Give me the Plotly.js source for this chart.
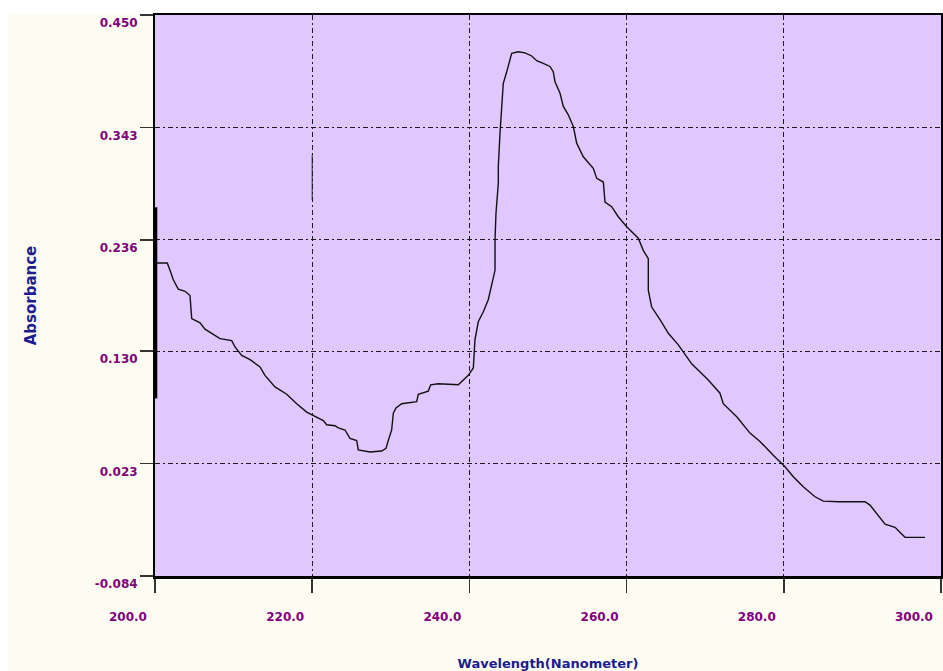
<!DOCTYPE html>
<html>
<head>
<meta charset="utf-8">
<script src="https://cdn.plot.ly/plotly-3.0.1.min.js"></script>
<style>
  html, body { margin: 0; padding: 0; background: #ffffff; width: 943px; height: 671px; overflow: hidden; }
  #panel { position: absolute; left: 8px; top: 14px; width: 935px; height: 657px; background: #fcfcf3; }
  #chart { position: absolute; left: 0; top: 0; width: 943px; height: 671px; }
</style>
</head>
<body>
<div id="panel"></div>
<div id="chart"></div>
<script>
// Wavelength (nm) and absorbance
const wavelength = [200.2, 201.56, 201.91, 202.33, 202.96, 203.82, 204.45, 204.67, 205.73, 206.36,
  208.27, 209.76, 210.18, 211.03, 212.09, 213.36, 213.99, 215.27, 216.76, 218.03,
  219.30, 220.14, 221.41, 221.84, 222.90, 223.32, 224.17, 224.81, 225.66, 225.86,
  227.35, 228.84, 229.39, 229.68, 230.11, 230.32, 230.66, 231.39, 233.29, 233.50,
  234.77, 235.08, 236.04, 238.59, 239.22, 239.86, 240.50, 240.71, 241.13, 241.77,
  242.40, 243.04, 243.26, 243.26, 243.38, 243.68, 243.68, 243.89, 244.11, 244.31,
  244.75, 245.38, 246.22, 247.07, 247.93, 248.56, 249.40, 250.25, 250.67, 250.89,
  251.53, 251.95, 252.58, 253.22, 253.65, 254.49, 255.76, 256.20, 257.04, 257.25,
  258.10, 258.94, 260.01, 261.49, 262.12, 262.76, 262.76, 263.19, 264.25, 265.31,
  266.58, 267.21, 268.28, 270.39, 271.88, 272.30, 274.01, 275.70, 276.97, 278.66,
  280.15, 281.21, 282.48, 283.97, 285.03, 286.94, 290.33, 290.97, 292.24, 292.88,
  294.15, 295.42, 297.96];
const absorbance = [0.214, 0.214, 0.207, 0.198, 0.189, 0.187, 0.183, 0.161, 0.157, 0.151,
  0.142, 0.140, 0.134, 0.126, 0.122, 0.115, 0.107, 0.096, 0.089, 0.080,
  0.072, 0.069, 0.064, 0.060, 0.059, 0.057, 0.055, 0.047, 0.045, 0.036,
  0.034, 0.035, 0.0375, 0.045, 0.055, 0.071, 0.076, 0.080, 0.082, 0.089,
  0.092, 0.098, 0.099, 0.098, 0.1025, 0.107, 0.114, 0.141, 0.158, 0.1675,
  0.179, 0.198, 0.207, 0.236, 0.261, 0.290, 0.306, 0.337, 0.363, 0.385,
  0.396, 0.4135, 0.415, 0.414, 0.411, 0.4065, 0.404, 0.401, 0.396, 0.3865,
  0.3755, 0.363, 0.355, 0.344, 0.328, 0.315, 0.304, 0.2945, 0.291, 0.272,
  0.2675, 0.258, 0.2485, 0.2375, 0.226, 0.218, 0.188, 0.172, 0.160, 0.147,
  0.136, 0.1295, 0.118, 0.1025, 0.090, 0.080, 0.0676, 0.052, 0.044, 0.031,
  0.020, 0.0105, 0.001, -0.0086, -0.0127, -0.0133, -0.0133, -0.0165, -0.029, -0.0346,
  -0.0377, -0.0472, -0.0472];

// Short vertical spikes recorded in the spectrum (start of scan and near 220 nm)
const spikeStartX = [200.1, 200.1];
const spikeStartY = [0.267, 0.085];
const spike220X = [220.0, 220.0];
const spike220Y = [0.317, 0.274];

// Axis ticks
const xTicks = [200, 220, 240, 260, 280, 300];
const xTickText = ["200.0", "220.0", "240.0", "260.0", "280.0", "300.0"];
const yTicks = [-0.084, 0.023, 0.130, 0.236, 0.343, 0.450];
const yTickText = ["-0.084", "0.023", "0.130", "0.236", "0.343", "0.450"];

const traces = [
  { x: wavelength, y: absorbance, type: 'scatter', mode: 'lines',
    line: { color: '#111111', width: 1.4 }, hoverinfo: 'x+y', showlegend: false },
  { x: spikeStartX, y: spikeStartY, type: 'scatter', mode: 'lines',
    line: { color: '#000000', width: 3 }, showlegend: false, hoverinfo: 'skip' },
  { x: spike220X, y: spike220Y, type: 'scatter', mode: 'lines',
    line: { color: '#222222', width: 1 }, showlegend: false, hoverinfo: 'skip' }
];

const tickFont = { family: 'DejaVu Sans, sans-serif', size: 12, color: '#800080', weight: 'bold' };

const layout = {
  width: 943, height: 671,
  margin: { l: 155, r: 2, t: 15, b: 95 },
  paper_bgcolor: 'rgba(0,0,0,0)',
  plot_bgcolor: '#e0c7fd',
  showlegend: false,
  xaxis: {
    range: [200, 300], autorange: false,
    tickvals: xTicks, ticktext: xTickText,
    tickfont: tickFont,
    ticks: 'outside', ticklen: 14, tickwidth: 1.5, tickcolor: '#333333',
    ticklabelshift: -27, ticklabelstandoff: 14, ticklabeloverflow: 'allow',
    showline: true, linecolor: '#000000', linewidth: 2.5, mirror: true,
    showgrid: true, gridcolor: '#1a1a1a', gridwidth: 1, griddash: '5px,3px,2px,3px',
    zeroline: false,
    title: { text: 'Wavelength(Nanometer)', standoff: 40,
      font: { family: 'DejaVu Sans, sans-serif', size: 13, color: '#1c1c8f', weight: 'bold' } }
  },
  yaxis: {
    range: [-0.084, 0.450], autorange: false,
    tickvals: yTicks, ticktext: yTickText,
    tickfont: tickFont,
    ticks: 'outside', ticklen: 13, tickwidth: 1.5, tickcolor: '#333333',
    ticklabelshift: 8, ticklabeloverflow: 'allow',
    showline: true, linecolor: '#000000', linewidth: 2, mirror: true,
    showgrid: true, gridcolor: '#1a1a1a', gridwidth: 1, griddash: '5px,3px,2px,3px',
    zeroline: false,
    title: { text: 'Absorbance', standoff: 54,
      font: { family: 'DejaVu Sans, sans-serif', size: 15, color: '#1c1c8f', weight: 'bold' } }
  }
};

Plotly.newPlot('chart', traces, layout, { displayModeBar: false, staticPlot: true });
</script>
</body>
</html>
